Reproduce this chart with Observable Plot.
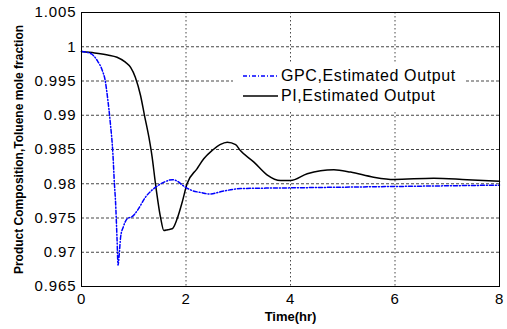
<!DOCTYPE html>
<html>
<head>
<meta charset="utf-8">
<script src="https://cdn.jsdelivr.net/npm/d3@7"></script>
<script src="https://cdn.jsdelivr.net/npm/@observablehq/plot@0.6"></script>
<style>
  html, body { margin: 0; padding: 0; background: #fff; }
  #wrap { position: relative; width: 507px; height: 329px; font-family: "Liberation Sans", Arial, sans-serif; }
  #wrap svg { font-family: "Liberation Sans", Arial, sans-serif; }
  #wrap svg [aria-label="y-axis label"] text, #wrap svg [aria-label="x-axis label"] text { font-weight: bold; }
  #wrap svg [aria-label="y-axis tick label"] text, #wrap svg [aria-label="x-axis tick label"] text { letter-spacing: 0.9px; }
  #legend { position: absolute; left: 233px; top: 63px; width: 231px; height: 47px; background: #fff; }
  .row { position: absolute; left: 0; height: 20px; display: flex; align-items: center; font-size: 16px; letter-spacing: 0.6px; color: #000; white-space: nowrap; }
  .row svg { margin-left: 10px; margin-right: 3px; }
</style>
</head>
<body>
<div id="wrap"></div>
<script>
// Time (hr) and product composition (toluene mole fraction)
const gpcTime = [0, 0.1, 0.2, 0.3, 0.4, 0.45, 0.5, 0.55, 0.6, 0.63, 0.65, 0.68, 0.70, 0.72, 0.75, 0.8, 0.875, 0.97, 1.07, 1.22, 1.42, 1.6, 1.74, 1.85, 1.93, 2.12, 2.3, 2.45, 2.7, 3.05, 4, 5, 6, 7, 8];
const gpcValue = [0.9993, 0.9992, 0.9989, 0.9980, 0.9965, 0.9952, 0.9925, 0.9890, 0.9845, 0.9800, 0.9776, 0.9720, 0.9681, 0.9695, 0.9723, 0.9737, 0.9749, 0.9752, 0.9761, 0.9780, 0.9795, 0.9803, 0.9806, 0.9803, 0.9798, 0.9790, 0.9787, 0.9785, 0.9789, 0.9793, 0.9794, 0.9795, 0.9796, 0.9797, 0.9798];

const piTime = [0, 0.25, 0.5, 0.68, 0.84, 0.94, 1.03, 1.13, 1.206, 1.29, 1.35, 1.416, 1.512, 1.576, 1.65, 1.736, 1.83, 1.927, 2.02, 2.21, 2.34, 2.5, 2.65, 2.79, 2.95, 3.04, 3.3, 3.55, 3.81, 4.0, 4.32, 4.83, 5.15, 5.59, 5.98, 6.74, 7.38, 8];
const piValue = [0.9993, 0.9991, 0.9988, 0.99847, 0.99775, 0.9970, 0.99556, 0.99288, 0.98996, 0.9868, 0.9840, 0.97999, 0.97512, 0.97318, 0.97330, 0.97342, 0.97488, 0.97731, 0.97999, 0.98218, 0.98364, 0.98485, 0.98570, 0.98607, 0.98570, 0.98485, 0.98316, 0.98131, 0.98047, 0.98047, 0.98146, 0.98204, 0.98170, 0.98096, 0.98062, 0.98081, 0.98058, 0.98037];

const xTicks = [0, 2, 4, 6, 8];
const yTicks = [0.965, 0.97, 0.975, 0.98, 0.985, 0.99, 0.995, 1, 1.005];
const seriesNames = ["GPC,Estimated Output", "PI,Estimated Output"];
const xLabel = "Time(hr)";
const yLabel = "Product Composition,Toluene mole fraction";

const gpc = gpcTime.map((t, i) => ({t, v: gpcValue[i]}));
const pi = piTime.map((t, i) => ({t, v: piValue[i]}));

const chart = Plot.plot({
  width: 507,
  height: 329,
  marginLeft: 81,
  marginRight: 8,
  marginTop: 12,
  marginBottom: 43,
  x: {domain: [0, 8]},
  y: {domain: [0.965, 1.005]},
  marks: [
    Plot.gridY(yTicks.slice(1, -1), {stroke: "#333", strokeOpacity: 0.9, strokeDasharray: "3,2"}),
    Plot.gridX(xTicks.slice(1, -1), {stroke: "#333", strokeOpacity: 0.9, strokeDasharray: "1.5,2.5"}),
    Plot.line(pi, {x: "t", y: "v", stroke: "black", strokeWidth: 1.5, curve: "monotone-x"}),
    Plot.line(gpc, {x: "t", y: "v", stroke: "#0000ff", strokeWidth: 1.5, strokeDasharray: "4,2,1,2", curve: "monotone-x"}),
    Plot.frame({stroke: "black"}),
    Plot.axisY(yTicks, {tickSize: 0, tickPadding: 5, fontSize: 15, tickFormat: d => String(+d.toFixed(3)),
      label: yLabel, labelAnchor: "center", labelArrow: "none", labelOffset: 67}),
    Plot.axisX(xTicks, {tickSize: 0, tickPadding: 7, fontSize: 15, tickFormat: d => String(d),
      label: xLabel, labelAnchor: "center", labelArrow: "none", labelOffset: 34})
  ]
});

const wrap = document.getElementById("wrap");
wrap.appendChild(chart);
chart.querySelectorAll('[aria-label="y-axis label"] text').forEach(t => t.setAttribute("font-size", "12"));
chart.querySelectorAll('[aria-label="x-axis label"] text').forEach(t => t.setAttribute("font-size", "13"));

// Legend
const legend = document.createElement("div");
legend.id = "legend";
const styles = [{stroke: "#0000ff", dash: "4,2,1,2"}, {stroke: "#000", dash: null}];
seriesNames.forEach((name, i) => {
  const row = document.createElement("div");
  row.className = "row";
  row.style.top = (i === 0 ? 3 : 23) + "px";
  const sw = d3.create("svg").attr("width", 35).attr("height", 4);
  sw.append("line").attr("x1", 0).attr("x2", 35).attr("y1", 2).attr("y2", 2)
    .attr("stroke", styles[i].stroke).attr("stroke-width", 1.5)
    .attr("stroke-dasharray", styles[i].dash);
  row.appendChild(sw.node());
  const span = document.createElement("span");
  span.textContent = name;
  row.appendChild(span);
  legend.appendChild(row);
});
wrap.appendChild(legend);
</script>
</body>
</html>
